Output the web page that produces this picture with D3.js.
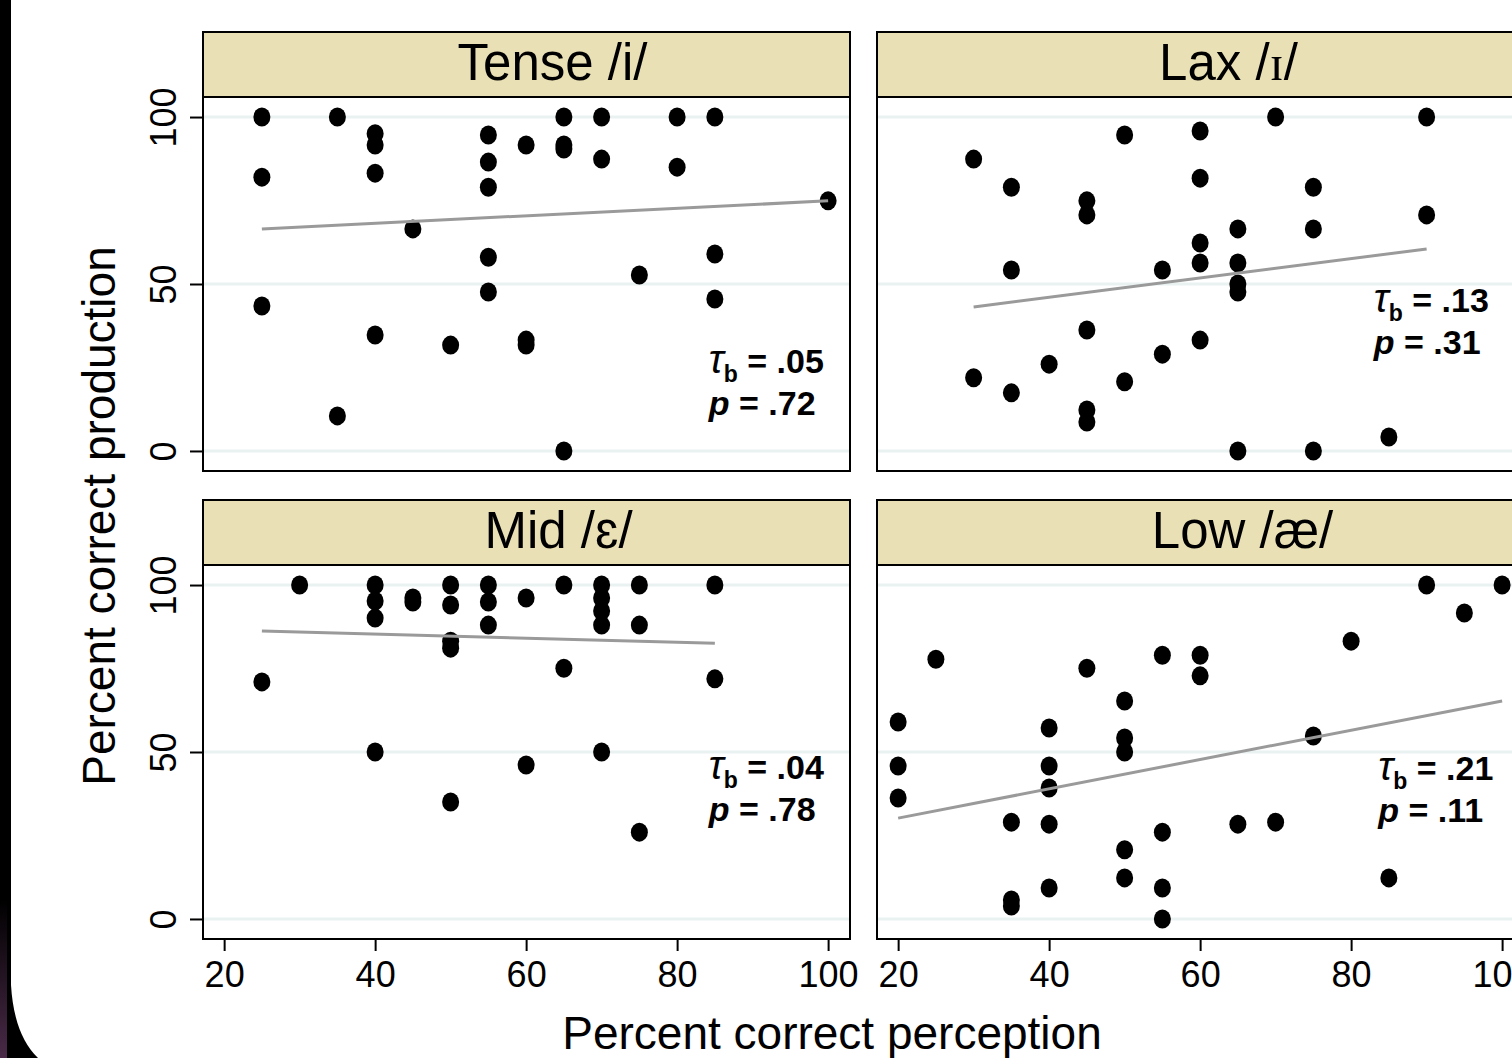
<!DOCTYPE html>
<html>
<head>
<meta charset="utf-8">
<script src="https://cdn.jsdelivr.net/npm/d3@7"></script>
<style>
  body { margin: 0; background: #fff; overflow: hidden; }
  svg { display: block; }
</style>
</head>
<body>
<script>
const width = 1512,
      height = 1058;

// ---- data ----
const panelNames = ["Tense", "Lax", "Mid", "Low"];
const panelVowels = ["i", "ɪ", "ɛ", "æ"];

const tenseX = [25, 25, 25, 35, 35, 40, 40, 40, 40, 45, 50, 55, 55, 55, 55, 55, 60, 60, 60, 65, 65, 65, 65, 70, 70, 75, 80, 80, 85, 85, 85, 100];
const tenseY = [100, 82, 43.4, 100, 10.5, 95, 91.6, 83.2, 34.7, 66.5, 31.7, 94.6, 86.5, 79, 58, 47.6, 91.6, 33.2, 31.7, 100, 91.6, 90.4, 0, 100, 87.4, 52.7, 100, 85, 100, 59, 45.5, 74.9];

const laxX = [30, 30, 35, 35, 35, 40, 45, 45, 45, 45, 45, 50, 50, 55, 55, 60, 60, 60, 60, 60, 65, 65, 65, 65, 65, 70, 75, 75, 75, 85, 90, 90];
const laxY = [87.4, 21.9, 79, 54.2, 17.4, 26, 74.9, 70.7, 36.2, 12.3, 8.7, 94.6, 20.7, 54.2, 29, 95.8, 81.7, 62.3, 56.3, 33.2, 66.5, 56.3, 50, 47.6, 0, 100, 79, 66.5, 0, 4.2, 100, 70.7];

const midX = [25, 30, 40, 40, 40, 40, 45, 45, 50, 50, 50, 50, 50, 55, 55, 55, 60, 60, 65, 65, 70, 70, 70, 70, 70, 75, 75, 75, 85, 85];
const midY = [71, 100, 100, 95.2, 90.1, 50, 96.1, 94.9, 100, 94, 83.2, 81.1, 35, 100, 94.9, 88, 96.1, 46.1, 100, 75.1, 100, 96.1, 92.2, 88, 50, 100, 88, 26, 100, 71.9];

const lowX = [20, 20, 20, 25, 35, 35, 35, 40, 40, 40, 40, 40, 45, 50, 50, 50, 50, 50, 55, 55, 55, 55, 60, 60, 65, 70, 75, 80, 85, 90, 95, 100];
const lowY = [59, 45.8, 36.2, 77.8, 29, 5.7, 3.9, 57.2, 45.8, 39.2, 28.4, 9.3, 75.1, 65.3, 54.2, 50, 20.7, 12.3, 79, 26, 9.3, 0, 79, 72.8, 28.4, 29, 54.8, 83.2, 12.3, 100, 91.6, 100];

// fitted lines: x range and fitted y at both ends
const fitX0 = [25, 30, 25, 20];
const fitX1 = [100, 90, 85, 100];
const fitY0 = [66.5, 43.1, 86.2, 30.2];
const fitY1 = [74.9, 60.5, 82.6, 65.3];

const tauValues = [".05", ".13", ".04", ".21"];
const pValues = [".72", ".31", ".78", ".11"];

const xTicks = [20, 40, 60, 80, 100];
const yTicks = [0, 50, 100];

const seriesX = [tenseX, laxX, midX, lowX];
const seriesY = [tenseY, laxY, midY, lowY];

// ---- layout ----
const colLeft = [203, 877];
const rowTop = [32, 500];
const panelW = 647,
      headH = 65,
      plotH = 374;
const titleShift = [26, 28, 32, 42];
// where the stats text sits, in data units
const annX = [84.2, 83, 84.2, 83.6];
const annY = [23.4, 41.6, 41.9, 41.6];

const font = "'Liberation Sans', Arial, Helvetica, sans-serif";

const x = d3.scaleLinear().domain([17.2, 102.9]).range([0, panelW]);
const y = d3.scaleLinear().domain([-6, 106]).range([plotH, 0]);

const svg = d3.select("body")
  .append("svg")
  .attr("width", width)
  .attr("height", height)
  .style("font-family", font);

svg.append("rect").attr("width", width).attr("height", height).attr("fill", "#fff");

// dark photo edge on the left
const grad = svg.append("defs").append("linearGradient")
  .attr("id", "edge").attr("x1", 0).attr("x2", 0).attr("y1", 0).attr("y2", 1);
grad.append("stop").attr("offset", "0.85").attr("stop-color", "#000");
grad.append("stop").attr("offset", "1").attr("stop-color", "#4a2a48");
svg.append("path")
  .attr("d", "M0,0 H11 V985 Q14,1035 38,1058 H0 Z")
  .attr("fill", "#000");
svg.append("rect")
  .attr("width", 7).attr("height", height)
  .attr("fill", "url(#edge)");

panelNames.forEach((name, i) => {
  const col = i % 2, row = Math.floor(i / 2);
  const g = svg.append("g")
    .attr("transform", "translate(" + colLeft[col] + "," + rowTop[row] + ")");

  /* ------- strip header ------- */
  g.append("rect")
    .attr("width", panelW).attr("height", headH)
    .attr("fill", "#eae0b5").attr("stroke", "#000").attr("stroke-width", 2);
  const title = g.append("text")
    .attr("x", panelW / 2 + titleShift[i]).attr("y", 48)
    .attr("text-anchor", "middle")
    .attr("font-size", 51)
    .text(name + " /");
  title.append("tspan")
    .attr("font-family", i === 1 ? "'Liberation Serif', 'DejaVu Serif', serif" : font)
    .text(panelVowels[i]);
  title.append("tspan").text("/");

  /* ------- plot area ------- */
  const p = g.append("g").attr("transform", "translate(0," + headH + ")");
  p.append("rect")
    .attr("width", panelW).attr("height", plotH)
    .attr("fill", "#fff");

  p.selectAll("line.grid")
    .data(yTicks)
    .enter().append("line")
    .attr("class", "grid")
    .attr("x1", 0).attr("x2", panelW)
    .attr("y1", (d) => y(d)).attr("y2", (d) => y(d))
    .attr("stroke", "#eaf1f1").attr("stroke-width", 3);

  const pts = seriesX[i].map((v, k) => ({ x: v, y: seriesY[i][k] }));
  p.selectAll("ellipse")
    .data(pts)
    .enter().append("ellipse")
    .attr("cx", (d) => x(d.x))
    .attr("cy", (d) => y(d.y))
    .attr("rx", 8.5).attr("ry", 9.5)
    .attr("fill", "#000");

  p.append("line")
    .attr("x1", x(fitX0[i])).attr("y1", y(fitY0[i]))
    .attr("x2", x(fitX1[i])).attr("y2", y(fitY1[i]))
    .attr("stroke", "#9a9a9a").attr("stroke-width", 3);

  const a = p.append("text")
    .attr("x", x(annX[i])).attr("y", y(annY[i]))
    .attr("font-size", 34).attr("font-weight", "bold");
  a.append("tspan").attr("font-style", "italic").attr("font-weight", "normal")
    .attr("font-size", 40).text("τ");
  a.append("tspan").attr("font-size", 23).attr("dy", 9).text("b");
  a.append("tspan").attr("dy", -9).text(" = " + tauValues[i]);

  const b = p.append("text")
    .attr("x", x(annX[i])).attr("y", y(annY[i]) + 42)
    .attr("font-size", 34).attr("font-weight", "bold");
  b.append("tspan").attr("font-style", "italic").text("p");
  b.append("tspan").text(" = " + pValues[i]);

  p.append("rect")
    .attr("width", panelW).attr("height", plotH)
    .attr("fill", "none").attr("stroke", "#000").attr("stroke-width", 2);

  /* ------- axes ------- */
  if (col === 0) {
    const ya = p.append("g").call(d3.axisLeft(y).tickValues(yTicks).tickSize(13).tickPadding(0));
    ya.select(".domain").remove();
    ya.selectAll("line").attr("stroke-width", 2);
    ya.selectAll("text")
      .attr("font-family", font)
      .attr("font-size", 36)
      .attr("text-anchor", "middle")
      .attr("dy", 0)
      .attr("x", 0)
      .attr("transform", "translate(-27,0) rotate(-90)");
  }
  if (row === 1) {
    const xa = p.append("g")
      .attr("transform", "translate(0," + plotH + ")")
      .call(d3.axisBottom(x).tickValues(xTicks).tickSize(12).tickPadding(0));
    xa.select(".domain").remove();
    xa.selectAll("line").attr("stroke-width", 2);
    xa.selectAll("text")
      .attr("font-family", font)
      .attr("font-size", 36)
      .attr("dy", 0)
      .attr("y", 48);
  }
});

svg.append("text")
  .attr("x", 832).attr("y", 1049)
  .attr("text-anchor", "middle")
  .attr("font-size", 46)
  .text("Percent correct perception");

svg.append("text")
  .attr("transform", "translate(115,516) rotate(-90)")
  .attr("text-anchor", "middle")
  .attr("font-size", 46)
  .text("Percent correct production");
</script>
</body>
</html>
